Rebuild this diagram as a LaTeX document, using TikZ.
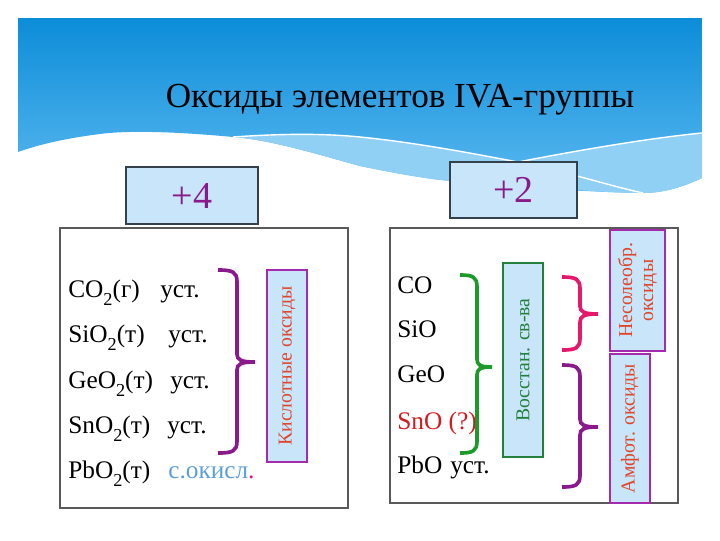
\documentclass[tikz,border=0pt]{standalone}
\usepackage{fontspec}
\setmainfont{Liberation Serif}
\usepackage{xcolor}
\usetikzlibrary{positioning}
\definecolor{skytop}{HTML}{0C8DD8}
\definecolor{skybot}{HTML}{5CB9F0}
\definecolor{skylight}{HTML}{8FD0F4}
\definecolor{boxfill}{HTML}{C8E5F9}
\definecolor{signedge}{HTML}{34414D}
\definecolor{oxpurple}{HTML}{8A1A8C}
\definecolor{oxmagenta}{HTML}{A42AB0}
\definecolor{oxgreen}{HTML}{1E9A2C}
\definecolor{oxdkgreen}{HTML}{22803A}
\definecolor{oxpink}{HTML}{E5186B}
\definecolor{oxorange}{HTML}{E0452B}
\definecolor{oxred}{HTML}{D41A1F}
\definecolor{oxlblue}{HTML}{5C9FD8}
\newcommand{\lowtwo}{\raisebox{-0.32em}{\fontsize{13}{13}\selectfont 2}}
\tikzset{
    % знак степени окисления
    signbox/.style={
        draw=signedge,
        line width=1.3pt,
        fill=boxfill,
        text=oxpurple,
        font=\fontsize{27}{27}\selectfont
    },
    % большие рамки
    frame/.style={
        draw=black!65,
        line width=1pt,
        fill=white
    },
    % вертикальные подписи
    vlabel/.style={
        rotate=90,
        fill=boxfill,
        draw=oxmagenta,
        line width=0.8pt,
        text=oxorange,
        inner sep=1pt,
        align=center,
        font=\fontsize{14}{15}\selectfont
    },
    % формулы
    row/.style={
        anchor=base west,
        inner sep=0pt,
        font=\fontsize{18}{18}\selectfont
    },
    % скобки
    bracket/.style={
        line width=2.6pt
    }
}

\begin{document}
\begin{tikzpicture}[x=0.025cm, y=-0.025cm]
    \useasboundingbox (0,0) rectangle (720,540);

    % Banner
    \shade[top color=skytop, bottom color=skybot] (18,18) -- (702,18) -- (702,178)
        .. controls (685,186) and (665,193) .. (643,193)
        .. controls (580,192) and (500,186) .. (450,181)
        .. controls (420,178) and (390,172) .. (360,166)
        .. controls (310,152) and (270,140) .. (233,137)
        .. controls (180,132) and (130,130) .. (100,134)
        .. controls (60,139) and (35,146) .. (18,152) -- cycle;
    \fill[skylight] (233,137) .. controls (290,133) and (330,134) .. (360,137)
        .. controls (420,143) and (480,155) .. (518,162) -- (518,185)
        .. controls (495,184) and (470,183) .. (450,181)
        .. controls (420,178) and (390,172) .. (360,166)
        .. controls (310,152) and (270,140) .. (233,137) -- cycle;
    \fill[skylight] (518,162) .. controls (580,150) and (650,138) .. (702,133) -- (702,178)
        .. controls (685,186) and (665,193) .. (643,193)
        .. controls (600,193) and (560,188) .. (518,185) -- cycle;
    \draw[white, line width=1pt] (233,137) .. controls (290,133) and (330,134) .. (360,137)
        .. controls (420,143) and (480,155) .. (518,162)
        .. controls (580,150) and (650,138) .. (702,133);
    \draw[white, line width=1pt] (577,176) .. controls (600,182) and (620,188) .. (643,193);

    \node (title) at (400,100) {\fontsize{25}{25}\selectfont Оксиды элементов IVA-группы};

    % Frames
    \node[frame, minimum width=7.2cm, minimum height=7cm] (left) at (204,368) {};
    \node[frame, minimum width=7.2cm, minimum height=6.875cm] (right) at (534,365.5) {};
    \node[signbox, minimum width=3.3cm, minimum height=1.425cm] (s4) at (192,195.5) {+4};
    \node[signbox, minimum width=3.175cm, minimum height=1.4cm] (s2) at (513.5,190) {+2};

    % +4
    \node[row] (co2) at (68,297) {CO\lowtwo(г)};
    \node[row] (sio2) at (68,342) {SiO\lowtwo(т)};
    \node[row] (geo2) at (68,388) {GeO\lowtwo(т)};
    \node[row] (sno2) at (68,433) {SnO\lowtwo(т)};
    \node[row] (pbo2) at (68,478) {PbO\lowtwo(т)};
    \node[row] (u1) at (160,297) {уст.};
    \node[row] (u2) at (168,342) {уст.};
    \node[row] (u3) at (170,388) {уст.};
    \node[row] (u4) at (167,433) {уст.};
    \node[row, text=oxlblue] (u5) at (168,478) {с.окисл\textcolor{oxpink}{.}};

    \draw[bracket, oxpurple] (218,270) .. controls (233,270) and (237,272) .. (237,282) -- (237,354)
        .. controls (237,360) and (241,362) .. (255,362) .. controls (241,362) and (237,364) .. (237,370)
        -- (237,441) .. controls (237,451) and (233,453) .. (218,453);
    \node[vlabel, minimum width=4.8cm, minimum height=1cm] (acid) at (287,366) {Кислотные оксиды};

    % +2
    \node[row] (co) at (397,293) {CO};
    \node[row] (sio) at (397,337) {SiO};
    \node[row] (geo) at (397,382) {GeO};
    \node[row, text=oxred] (sno) at (397,429) {SnO (?)};
    \node[row] (pbo) at (397,473) {PbO};
    \node[row] (u6) at (450,473) {уст.};

    \draw[bracket, oxgreen] (460,275) .. controls (473,275) and (477,277) .. (477,287) -- (477,359)
        .. controls (477,365) and (480,367) .. (492,367) .. controls (480,367) and (477,369) .. (477,375)
        -- (477,441) .. controls (477,451) and (473,453) .. (460,453);
    \node[vlabel, draw=oxdkgreen, text=oxdkgreen, minimum width=4.85cm, minimum height=1cm] (red) at (523,360) {Восстан. св-ва};

    \draw[bracket, oxpink] (562,277) .. controls (576,277) and (580,279) .. (580,289) -- (580,306)
        .. controls (580,312) and (584,314) .. (598,314) .. controls (584,314) and (580,316) .. (580,322)
        -- (580,338) .. controls (580,348) and (576,350) .. (562,350);
    \draw[bracket, oxpurple] (562,365) .. controls (576,365) and (580,367) .. (580,377) -- (580,419)
        .. controls (580,425) and (584,427) .. (598,427) .. controls (584,427) and (580,429) .. (580,435)
        -- (580,475) .. controls (580,485) and (576,487) .. (562,487);
    \node[vlabel, minimum width=3.025cm, minimum height=1.375cm] (inert) at (637.5,290.5) {Несолеобр.\\оксиды};
    \node[vlabel, minimum width=3.725cm, minimum height=1cm] (amph) at (630,428.5) {Амфот. оксиды};
\end{tikzpicture}
\end{document}
